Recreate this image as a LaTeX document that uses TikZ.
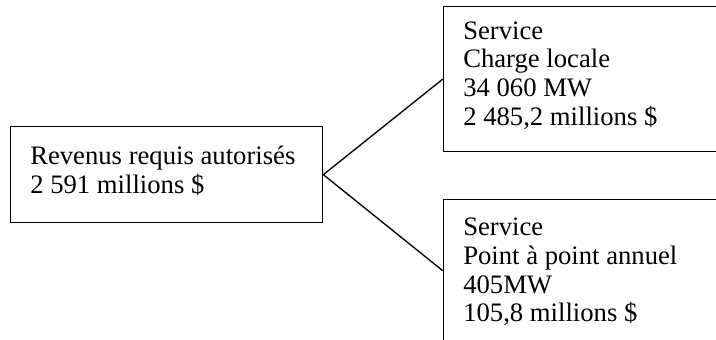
\documentclass[tikz,border=0pt]{standalone}
\usepackage{fontspec}
\setmainfont{Liberation Serif}
\begin{document}
\begin{tikzpicture}[x=0.75pt,y=-0.75pt,
        boite/.style={draw, line width=1pt, rectangle, inner sep=0pt, anchor=north west},
        texte/.style={anchor=base west, align=left, inner sep=0pt, font=\fontsize{20}{21.5}\selectfont}]
        \useasboundingbox (0,0) rectangle (716,339);
        \clip (0,0) rectangle (716,339);
        % les trois cases
        \node[boite, minimum width=234pt, minimum height=72pt] (revenus) at (10,126) {};
        \node[boite, minimum width=223pt, minimum height=108.75pt] (charge) at (442.7,6) {};
        \node[boite, minimum width=223pt, minimum height=106.5pt] (point) at (442.7,199) {};
        % les textes (ancre sur la derniere ligne)
        \node[texte] (txtrevenus) at (30,193.3) {Revenus requis autorisés\\2 591 millions \$};
        \node[texte] (txtcharge) at (463,125) {Service\\Charge locale\\34 060 MW\\2 485,2 millions \$};
        \node[texte] (txtpoint) at (463,321.7) {Service\\Point à point annuel\\405MW\\105,8 millions \$};
        % les liens
        \draw[line width=1pt] (revenus.east) -- (charge.west);
        \draw[line width=1pt] (revenus.east) -- (point.west);
    \end{tikzpicture}
\end{document}
